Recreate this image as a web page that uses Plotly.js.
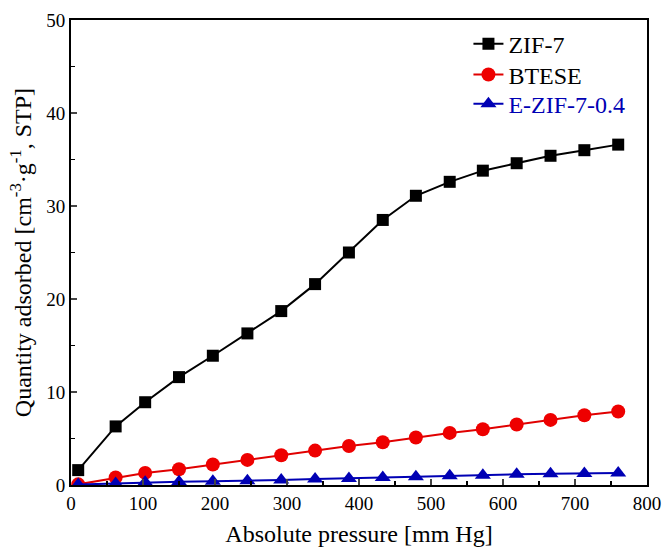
<!DOCTYPE html>
<html>
<head>
<meta charset="utf-8">
<script src="https://cdn.plot.ly/plotly-3.0.1.min.js"></script>
<style>html,body{margin:0;padding:0;background:#fff;}#chart{width:666px;height:549px;}</style>
</head>
<body>
<div id="chart"></div>
<script>
// Pressure [mm Hg]
const pressure = [10, 62, 103, 150, 197, 245, 292, 339, 386, 433, 479, 526, 572, 619, 666, 713, 760];
const zif7 = [1.6, 6.3, 8.9, 11.6, 13.9, 16.3, 18.7, 21.6, 25.0, 28.5, 31.1, 32.6, 33.8, 34.6, 35.4, 36.0, 36.6];
const btese = [0.07, 0.8, 1.3, 1.7, 2.2, 2.7, 3.2, 3.7, 4.2, 4.6, 5.1, 5.6, 6.0, 6.5, 7.0, 7.5, 7.9];
const ezif = [0.05, 0.15, 0.3, 0.35, 0.4, 0.45, 0.55, 0.65, 0.7, 0.8, 0.9, 1.0, 1.05, 1.15, 1.2, 1.25, 1.3];
const seriesNames = ['ZIF-7', 'BTESE', '<span style="color:#0000b4">E-ZIF-7-0.4</span>'];

const font = 'Liberation Serif';
const traces = [
  {x: pressure, y: zif7, name: seriesNames[0], mode: 'lines+markers', legend: 'legend',
   line: {color: '#000000', width: 2}, marker: {symbol: 'square', size: 12, color: '#000000'}},
  {x: pressure, y: btese, name: seriesNames[1], mode: 'lines+markers', legend: 'legend2',
   line: {color: '#e00000', width: 2}, marker: {symbol: 'circle', size: 14, color: '#ee0000'}},
  {x: pressure, y: ezif, name: seriesNames[2], mode: 'lines+markers', legend: 'legend3',
   line: {color: '#0000b4', width: 2}, marker: {symbol: 'triangle-up', size: 14, color: '#0000b4'}}
];

function leg(y) {
  return {x: 0.69, y: y, xanchor: 'left', yanchor: 'middle', font: {family: font, size: 24, color: '#000'},
          bgcolor: 'rgba(0,0,0,0)', itemwidth: 30};
}

const layout = {
  width: 666, height: 549,
  margin: {l: 71, r: 19, t: 20, b: 64},
  paper_bgcolor: '#fff', plot_bgcolor: '#fff',
  font: {family: font, color: '#000', size: 19},
  showlegend: true,
  legend: leg(0.948),
  legend2: leg(0.882),
  legend3: leg(0.819),
  xaxis: {range: [0, 800], dtick: 100, tick0: 0, ticks: 'inside', ticklen: 6, tickwidth: 1.5,
          showline: true, linecolor: '#000', linewidth: 2, mirror: true, showgrid: false, zeroline: false,
          tickfont: {family: font, size: 19},
          minor: {ticks: 'inside', ticklen: 4, dtick: 50, tickwidth: 1.5, tickcolor: '#000'},
          title: {text: 'Absolute pressure [mm Hg]', font: {family: font, size: 24}, standoff: 12}},
  yaxis: {range: [0, 50], dtick: 10, tick0: 0, ticks: 'inside', ticklen: 6, tickwidth: 1.5,
          showline: true, linecolor: '#000', linewidth: 2, mirror: true, showgrid: false, zeroline: false,
          tickfont: {family: font, size: 19},
          minor: {ticks: 'inside', ticklen: 4, dtick: 5, tickwidth: 1.5, tickcolor: '#000'},
          title: {text: 'Quantity adsorbed [cm<sup>-3</sup>·g<sup>-1</sup>, STP]', font: {family: font, size: 24}, standoff: 8}}
};

Plotly.newPlot('chart', traces, layout, {displayModeBar: false, staticPlot: true});
</script>
</body>
</html>
